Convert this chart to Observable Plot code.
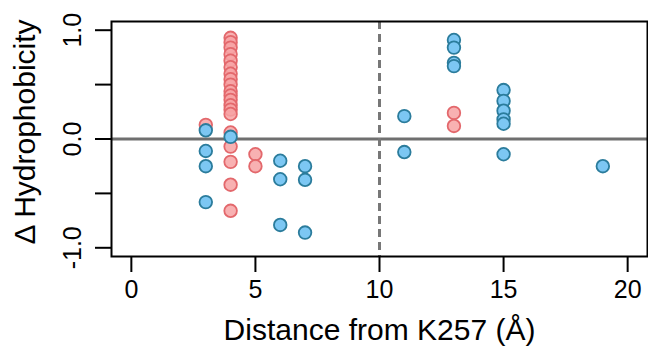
<!DOCTYPE html>
<html>
<head>
<meta charset="utf-8">
<script src="https://cdn.jsdelivr.net/npm/d3@7"></script>
<script src="https://cdn.jsdelivr.net/npm/@observablehq/plot@0.6"></script>
<style>
  html, body { margin: 0; padding: 0; background: #fff; }
  #chart svg { display: block; }
</style>
</head>
<body>
<div id="chart"></div>
<script>
// Data
const redDistance = [3, 4,4,4,4,4,4,4,4,4,4,4,4,4,4,4, 4,4,4,4,4, 5,5, 13,13];
const redDelta    = [0.13, 0.93,0.89,0.84,0.78,0.72,0.66,0.60,0.55,0.50,0.44,0.40,0.36,0.31,0.27,0.23, 0.06,-0.07,-0.21,-0.42,-0.66, -0.14,-0.25, 0.24,0.12];
const blueDistance = [3,3,3,3, 4, 6,6,6, 7,7,7, 11,11, 13,13,13,13, 15,15,15,15,15,15, 19];
const blueDelta    = [0.08,-0.11,-0.25,-0.58, 0.02, -0.20,-0.37,-0.79, -0.25,-0.375,-0.86, 0.21,-0.12, 0.91,0.84,0.70,0.67, 0.45,0.35,0.26,0.18,0.14,-0.14, -0.25];

const xTicks = [0, 5, 10, 15, 20];
const yTicks = [-1, -0.5, 0, 0.5, 1];
const yLabelValues = [-1, 0, 1];
const yLabelTexts = ["-1.0", "0.0", "1.0"];
const xTitle = "Distance from K257 (Å)";
const yTitle = "Δ Hydrophobicity";
const threshold = [10];

const red = redDistance.map((d, i) => ({distance: d, delta: redDelta[i]}));
const blue = blueDistance.map((d, i) => ({distance: d, delta: blueDelta[i]}));
const yLabels = yLabelValues.map((v, i) => ({v, t: yLabelTexts[i]}));

const font = "'Liberation Sans', Arial, Helvetica, sans-serif";

const chart = Plot.plot({
  width: 648,
  height: 352,
  marginLeft: 111,
  marginRight: 1,
  marginTop: 21,
  marginBottom: 96,
  style: {fontFamily: font, background: "#fff", color: "#000"},
  x: {domain: [-0.8, 20.8], label: null},
  y: {domain: [-1.08, 1.08], label: null},
  marks: [
    Plot.ruleY([0], {stroke: "#6f6f6f", strokeWidth: 3}),
    Plot.ruleX(threshold, {stroke: "#777", strokeWidth: 3, strokeDasharray: "8,5"}),
    Plot.dot(red, {x: "distance", y: "delta", r: 6.3, fill: "#f7a3a5", fillOpacity: 0.85, stroke: "#e3686c", strokeWidth: 1.8}),
    Plot.dot(blue, {x: "distance", y: "delta", r: 6.3, fill: "#7cc7f3", stroke: "#2b7c9c", strokeWidth: 1.8}),
    Plot.frame({stroke: "#000", strokeWidth: 2}),
    Plot.axisX({ticks: xTicks, tickSize: 16, tickPadding: 8, fontSize: 25, strokeWidth: 2, label: null, tickFormat: d => String(d)}),
    Plot.axisY({ticks: yTicks, tickSize: 16, strokeWidth: 2, label: null, tickFormat: () => ""}),
    Plot.text(yLabels, {y: "v", text: "t", frameAnchor: "left", dx: -31, rotate: -90, textAnchor: "middle", lineAnchor: "bottom", fontSize: 25}),
    Plot.text([xTitle], {frameAnchor: "bottom", dy: 62, lineAnchor: "top", textAnchor: "middle", fontSize: 30}),
    Plot.text([yTitle], {frameAnchor: "left", dx: -86, dy: -7, rotate: -90, textAnchor: "middle", lineAnchor: "middle", fontSize: 30})
  ]
});
document.getElementById("chart").appendChild(chart);
</script>
</body>
</html>
